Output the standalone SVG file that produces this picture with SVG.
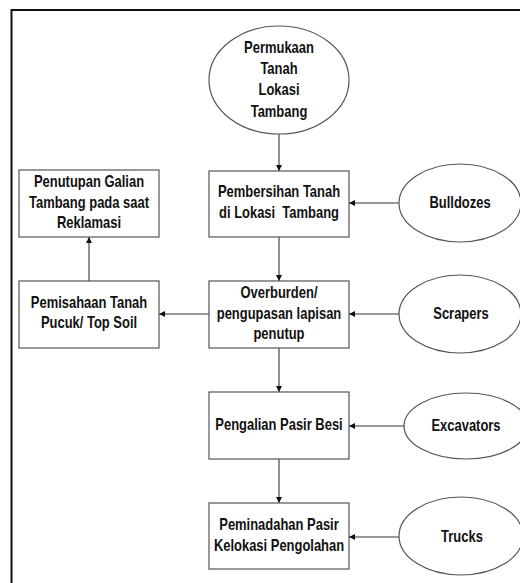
<svg xmlns="http://www.w3.org/2000/svg" width="520" height="583" viewBox="0 0 520 583">
<style>
.n{fill:#fff;stroke:#555;stroke-width:1.2}
.t{font-family:"Liberation Sans",Arial,sans-serif;font-weight:bold;font-size:16px;fill:#111;text-anchor:middle;dominant-baseline:central}
.c{stroke:#333;stroke-width:1.1;fill:none;marker-end:url(#ah)}
</style>
<defs>
<marker id="ah" viewBox="0 0 10 10" refX="10" refY="5" markerWidth="6" markerHeight="6" markerUnits="userSpaceOnUse" orient="auto">
<path d="M0,0 L10,5 L0,10 z" fill="#111"/>
</marker>
</defs>
<rect x="0" y="0" width="520" height="583" fill="#fff"/>
<path d="M11.5,600 L11.5,10 L530,10" fill="none" stroke="#111" stroke-width="2"/>
<g id="connectors">
<line class="c" x1="279" y1="134" x2="279" y2="171"/>
<line class="c" x1="279" y1="237" x2="279" y2="281"/>
<line class="c" x1="279" y1="348" x2="279" y2="392"/>
<line class="c" x1="279" y1="459" x2="279" y2="503"/>
<line class="c" x1="399" y1="203" x2="349" y2="203"/>
<line class="c" x1="399" y1="314" x2="349" y2="314"/>
<line class="c" x1="404" y1="426" x2="349" y2="426"/>
<line class="c" x1="399" y1="537" x2="349" y2="537"/>
<line class="c" x1="209" y1="314" x2="159" y2="314"/>
<line class="c" x1="89" y1="281" x2="89" y2="237"/>
</g>
<g id="permukaan">
<ellipse class="n" cx="279" cy="80" rx="70" ry="54"/>
<g transform="translate(279 0) scale(0.81 1)">
<text class="t" x="0" y="48">Permukaan</text>
<text class="t" x="0" y="69">Tanah</text>
<text class="t" x="0" y="90">Lokasi</text>
<text class="t" x="0" y="112">Tambang</text>
</g>
</g>
<g id="pembersihan">
<rect class="n" x="209" y="171" width="140" height="66"/>
<g transform="translate(279 0) scale(0.81 1)">
<text class="t" x="0" y="192">Pembersihan Tanah</text>
<text class="t" x="0" y="213" xml:space="preserve">di Lokasi  Tambang</text>
</g>
</g>
<g id="penutupan">
<rect class="n" x="19" y="170" width="140" height="67"/>
<g transform="translate(89 0) scale(0.81 1)">
<text class="t" x="0" y="182">Penutupan Galian</text>
<text class="t" x="0" y="203">Tambang pada saat</text>
<text class="t" x="0" y="223">Reklamasi</text>
</g>
</g>
<g id="pemisahaan">
<rect class="n" x="19" y="281" width="140" height="67"/>
<g transform="translate(89 0) scale(0.81 1)">
<text class="t" x="0" y="303">Pemisahaan Tanah</text>
<text class="t" x="0" y="323">Pucuk/ Top Soil</text>
</g>
</g>
<g id="overburden">
<rect class="n" x="209" y="281" width="140" height="67"/>
<g transform="translate(279 0) scale(0.81 1)">
<text class="t" x="0" y="293">Overburden/</text>
<text class="t" x="0" y="314">pengupasan lapisan</text>
<text class="t" x="0" y="334">penutup</text>
</g>
</g>
<g id="pengalian">
<rect class="n" x="209" y="392" width="140" height="67"/>
<g transform="translate(279 0) scale(0.81 1)">
<text class="t" x="0" y="425">Pengalian Pasir Besi</text>
</g>
</g>
<g id="peminadahan">
<rect class="n" x="209" y="503" width="140" height="66"/>
<g transform="translate(279 0) scale(0.81 1)">
<text class="t" x="0" y="525">Peminadahan Pasir</text>
<text class="t" x="0" y="546">Kelokasi Pengolahan</text>
</g>
</g>
<g id="bulldozes">
<ellipse class="n" cx="460" cy="203" rx="61" ry="39"/>
<g transform="translate(460 0) scale(0.81 1)">
<text class="t" x="0" y="203">Bulldozes</text>
</g>
</g>
<g id="scrapers">
<ellipse class="n" cx="460" cy="314" rx="61" ry="39"/>
<g transform="translate(461 0) scale(0.81 1)">
<text class="t" x="0" y="314">Scrapers</text>
</g>
</g>
<g id="excavators">
<ellipse class="n" cx="466" cy="426" rx="62" ry="33"/>
<g transform="translate(466 0) scale(0.81 1)">
<text class="t" x="0" y="426">Excavators</text>
</g>
</g>
<g id="trucks">
<ellipse class="n" cx="461" cy="536" rx="62" ry="39"/>
<g transform="translate(462 0) scale(0.81 1)">
<text class="t" x="0" y="537">Trucks</text>
</g>
</g>
</svg>
